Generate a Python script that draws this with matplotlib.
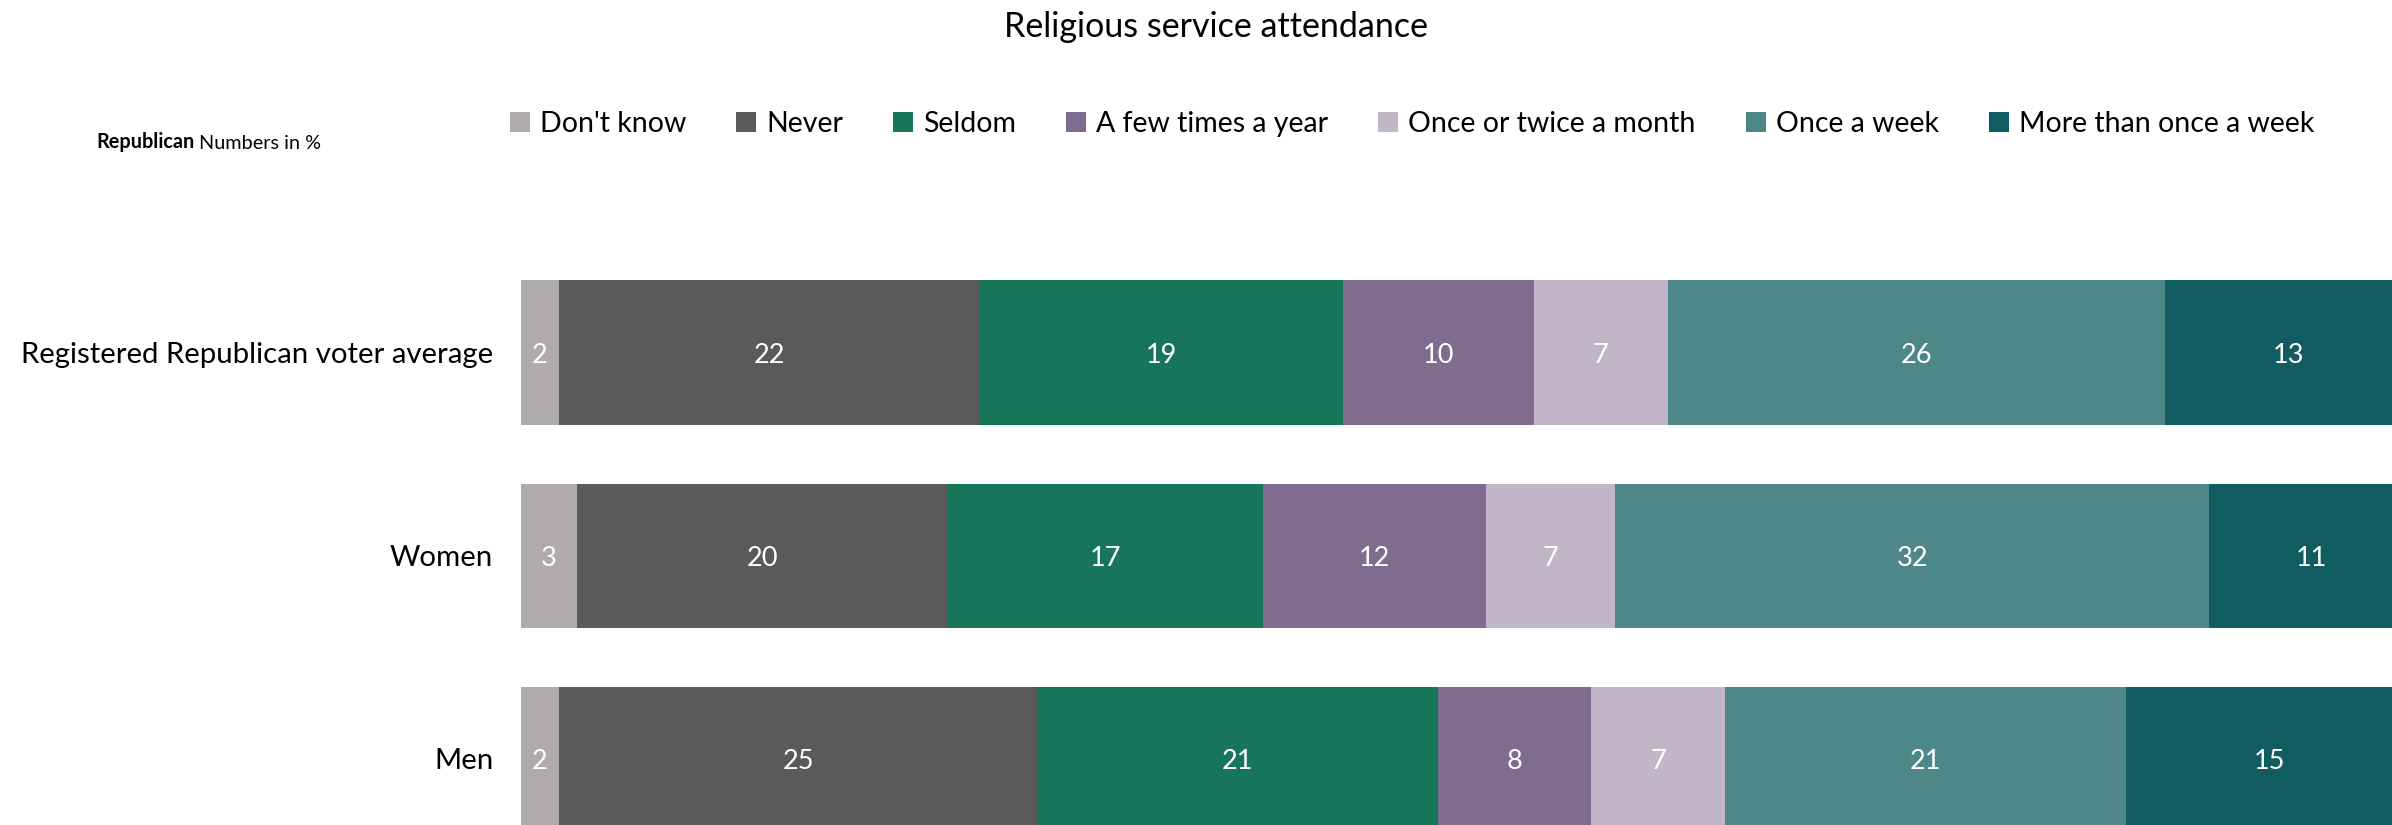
import matplotlib
matplotlib.use("Agg")
import matplotlib.pyplot as plt
import numpy as np

categories = ["Registered Republican voter average", "Women", "Men"]
series = ["Don't know", "Never", "Seldom", "A few times a year",
          "Once or twice a month", "Once a week", "More than once a week"]
dont_know = [2, 3, 2]
never = [22, 20, 25]
seldom = [19, 17, 21]
few_times_year = [10, 12, 8]
once_twice_month = [7, 7, 7]
once_week = [26, 32, 21]
more_than_week = [13, 11, 15]

colors = ["#AFABAA", "#5A5A5A", "#17765A", "#7F6C8F", "#C1B5C8", "#4E8788", "#115C61"]

values = np.array([dont_know, never, seldom, few_times_year,
                   once_twice_month, once_week, more_than_week], dtype=float)
totals = values.sum(axis=0)
shares = values / totals * 100

FONT = "Lato"
plt.rcParams['font.family'] = [FONT, 'DejaVu Sans']

W, H = 2392, 825
fig = plt.figure(figsize=(W / 100, H / 100), dpi=100)

top_px, bot_px = 251, 860.5
ax = fig.add_axes([521 / W, 1 - bot_px / H, 1892 / W, (bot_px - top_px) / H])
ax.set_xlim(0, 100)
ax.set_ylim(2.5, -0.5)

y = np.arange(len(categories))
left = np.zeros(len(categories))
handles = []
for i, name in enumerate(series):
    bars = ax.barh(y, shares[i], left=left, height=0.71, color=colors[i],
                   label=name, edgecolor="none")
    handles.append(bars)
    for j in range(len(categories)):
        ax.text(left[j] + shares[i][j] / 2, y[j], f"{int(values[i][j])}",
                ha="center", va="center_baseline", color="white", fontsize=19.5,
                clip_on=True)
    left += shares[i]

ax.set_yticks(y)
ax.set_yticklabels(categories, fontsize=21.2, va="center_baseline")
ax.tick_params(axis="y", length=0, pad=20)
ax.set_xticks([])
for s in ax.spines.values():
    s.set_visible(False)

fig.text(1216 / W, 1 - 27 / H, "Religious service attendance", ha="center",
         va="center", fontsize=24.5)

t1 = fig.text(96 / W, 1 - 148 / H, "Republican", ha="left", va="baseline",
              fontsize=14.3, fontweight="bold")
ax.annotate("Numbers in %", xy=(1, 0), xycoords=t1, xytext=(3.5, 0),
            textcoords="offset points", ha="left", va="bottom",
            fontsize=14.3, annotation_clip=False)

leg = fig.legend(handles=handles, labels=series, loc="center",
                 bbox_to_anchor=(1412 / W, 1 - 124 / H), ncol=7, frameon=False,
                 fontsize=20.5, handlelength=0.7, handleheight=0.7,
                 handletextpad=0.35, columnspacing=1.76, borderaxespad=0)

fig.savefig("out.png", dpi=100)
